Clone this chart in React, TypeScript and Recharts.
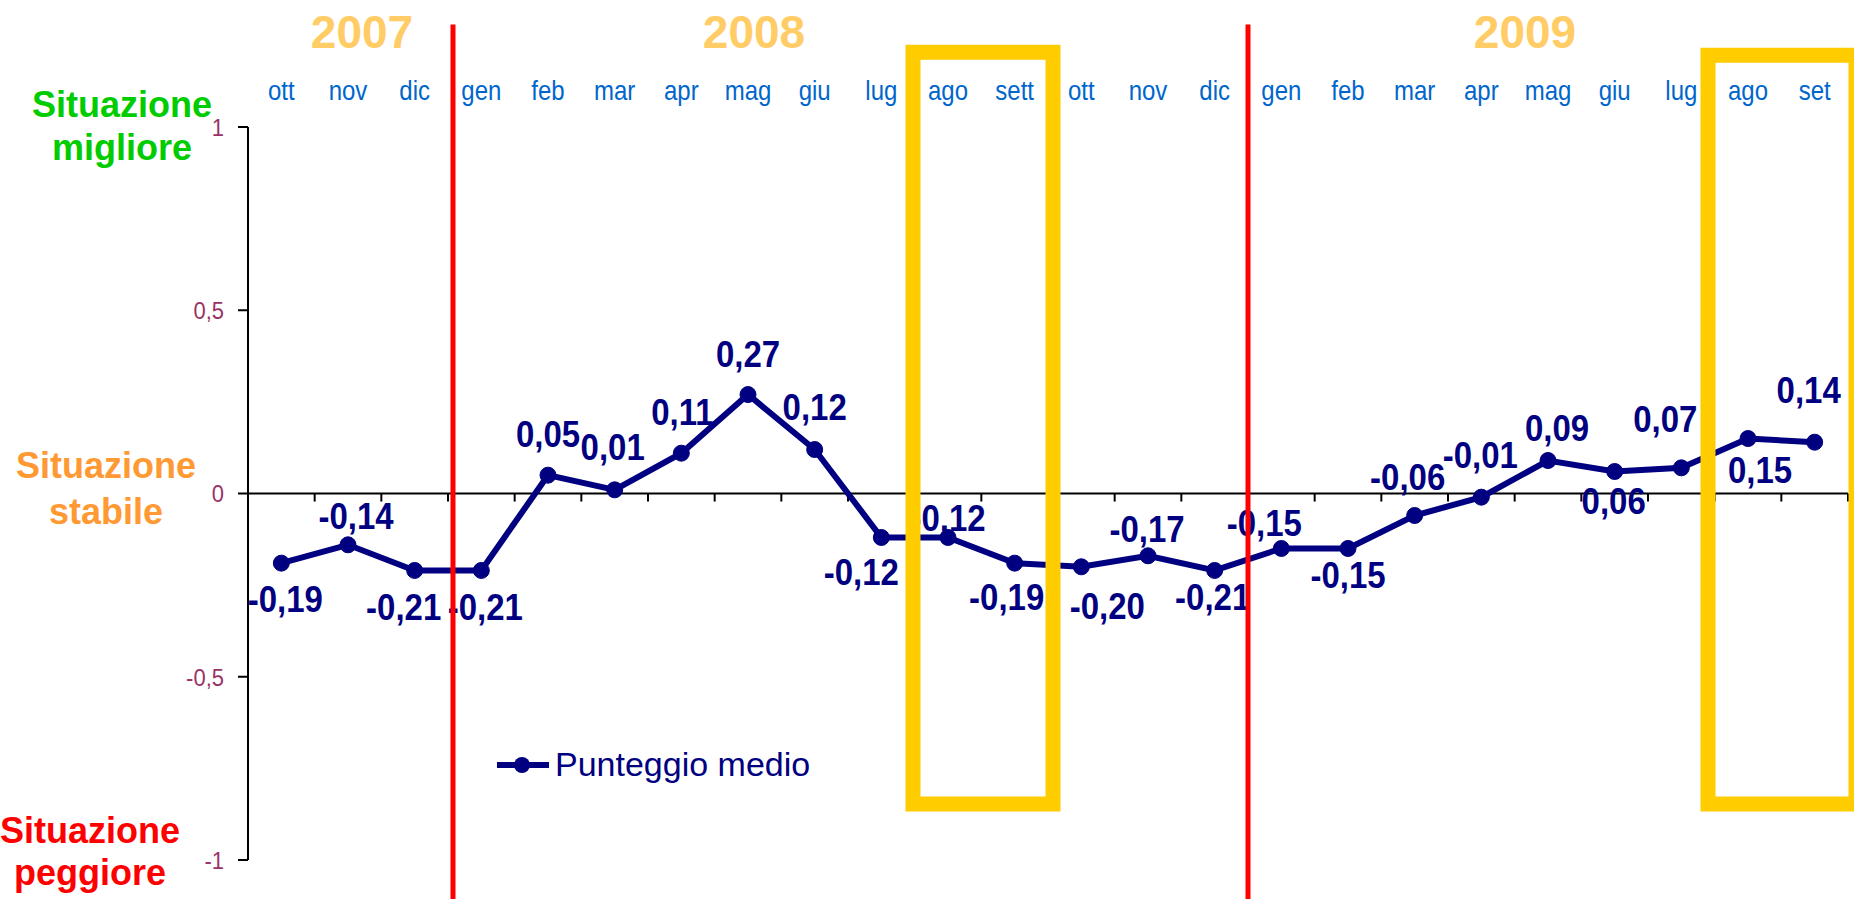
import React from 'react'
import { LineChart, Line, XAxis, YAxis, ReferenceLine, ReferenceArea, LabelList, Legend } from 'recharts'

// page / plot geometry
const W = 1854
const H = 899
const FONT = '"Liberation Sans", Arial, sans-serif'
const NAVY = '#000080'
const YELLOW = '#FFCC00'
const STRETCH = 1.12 // source text is slightly taller than plain Arial

const months = [
  'ott', 'nov', 'dic',
  'gen', 'feb', 'mar', 'apr', 'mag', 'giu', 'lug', 'ago', 'sett', 'ott', 'nov', 'dic',
  'gen', 'feb', 'mar', 'apr', 'mag', 'giu', 'lug', 'ago', 'set',
]
const scores = [
  -0.19, -0.14, -0.21,
  -0.21, 0.05, 0.01, 0.11, 0.27, 0.12, -0.12, -0.12, -0.19, -0.2, -0.17, -0.21,
  -0.15, -0.15, -0.06, -0.01, 0.09, 0.06, 0.07, 0.15, 0.14,
]
const yTicks = [-1, -0.5, 0, 0.5, 1]
const yearLabels = ['2007', '2008', '2009']
// year changes happen between dic and gen
const yearBreaks = [2.575, 14.5]
// highlighted months (ago–set of each year)
const highlights = [
  { x1: 9.475, x2: 11.575, y1: -0.847, y2: 1.204 },
  { x1: 21.4, x2: 23.62, y1: -0.847, y2: 1.196 },
]

// label placement relative to each point (px) — styling only
const labelOffsets: [number, number][] = [
  [4, 49], [8, -16], [-11, 50], [4, 50], [0, -28], [-2, -30], [1, -28], [0, -28],
  [0, -30], [-20, 48], [0, -6], [-8, 47], [26, 52], [-1, -14], [-2, 40], [-17, -12],
  [0, 40], [-7, -25], [-1, -29], [9, -20], [-1, 42], [-16, -36], [12, 44], [-6, -39],
]

const data = months.map((m, i) => ({ i, m, v: scores[i] }))
const boundaries = months.map((_, i) => i + 0.5)
const fmt = (v: number) => String(v).replace('.', ',')
const fmt2 = (v: number) => v.toFixed(2).replace('.', ',')

const renderLabel = (props: any) => {
  const { index, value } = props
  const x = props.viewBox?.x ?? props.x
  const y = props.viewBox?.y ?? props.y
  const [dx, dy] = labelOffsets[index] || [0, -20]
  return (
    <text key={index} transform={`translate(${x + dx},${y + dy}) scale(1,${STRETCH})`} textAnchor="middle"
      fontFamily={FONT} fontWeight="bold" fontSize={33} fill={NAVY}>
      {fmt2(value)}
    </text>
  )
}

const MonthTick = ({ x, y, payload }: any) => (
  <text transform={`translate(${x},${y}) scale(1,${STRETCH})`} textAnchor="middle" fontFamily={FONT} fontSize={24} fill="#0066CC">
    {months[payload.value]}
  </text>
)

const ValueTick = ({ x, y, payload }: any) => (
  <text transform={`translate(${x},${y}) scale(1,${STRETCH})`} dy="0.36em" textAnchor="end" fontFamily={FONT} fontSize={22} fill="#993366">
    {fmt(payload.value)}
  </text>
)

function LegendContent() {
  return (
    <div style={{ display: 'flex', alignItems: 'center', fontFamily: FONT, fontSize: 34, color: NAVY, whiteSpace: 'nowrap' }}>
      <svg width={52} height={20} style={{ marginRight: 6 }}>
        <line x1={1} y1={10} x2={51} y2={10} stroke={NAVY} strokeWidth={6} strokeLinecap="round" />
        <circle cx={25} cy={10} r={8} fill={NAVY} />
      </svg>
      <span>Punteggio medio</span>
    </div>
  )
}

export default function App() {
  return (
    <div style={{ position: 'fixed', left: 0, top: 0, width: W, height: H, background: '#fff', overflow: 'hidden' }}>
      <LineChart width={W} height={H} data={data} margin={{ top: 87, right: 6, bottom: 39, left: 188 }}>
        <XAxis
          dataKey="i" type="number" orientation="top" domain={[-0.5, 23.5]} ticks={data.map(d => d.i)} interval={0}
          height={40} axisLine={false} tickLine={false} tickSize={0} tickMargin={27} tick={<MonthTick />}
        />
        <YAxis
          type="number" domain={[-1, 1]} ticks={yTicks} width={60} tickSize={10} tickMargin={14}
          axisLine={{ stroke: '#000', strokeWidth: 2 }} tickLine={{ stroke: '#000', strokeWidth: 2 }}
          tick={<ValueTick />}
        />
        <ReferenceLine y={0} stroke="#000" strokeWidth={2} />
        {boundaries.map(b => (
          <ReferenceLine key={b} segment={[{ x: b, y: 0 }, { x: b, y: -0.022 }]} stroke="#000" strokeWidth={2} ifOverflow="visible" />
        ))}
        <Line dataKey="v" stroke={NAVY} strokeWidth={6} isAnimationActive={false}
          dot={{ r: 8, fill: NAVY, stroke: NAVY, strokeWidth: 1 }} activeDot={false}>
          <LabelList dataKey="v" content={renderLabel} />
        </Line>
        {/* red year separators and yellow highlight boxes sit above the series */}
        {yearBreaks.map(x => (
          <ReferenceLine key={'yb' + x} segment={[{ x, y: 1.28 }, { x, y: -1.2 }]} stroke="#FF0000" strokeWidth={5}
            ifOverflow="visible" zIndex={3000} />
        ))}
        {highlights.map((h, k) => (
          <ReferenceArea key={'hl' + k} x1={h.x1} x2={h.x2} y1={h.y1} y2={h.y2} fill="none" fillOpacity={0}
            stroke={YELLOW} strokeWidth={15} ifOverflow="visible" zIndex={3000} />
        ))}
        <Legend layout="horizontal" verticalAlign="middle" align="center" content={LegendContent}
          wrapperStyle={{ left: 497, top: 745, width: 'auto' }} />
      </LineChart>

      {/* side captions and year headers */}
      <svg width={W} height={H} style={{ position: 'absolute', left: 0, top: 0, pointerEvents: 'none' }}>
        <g fontFamily={FONT} fontWeight="bold" textAnchor="middle">
          <text x={362} y={48} fontSize={46} fill="#FFCC66">{yearLabels[0]}</text>
          <text x={754} y={48} fontSize={46} fill="#FFCC66">{yearLabels[1]}</text>
          <text x={1525} y={48} fontSize={46} fill="#FFCC66">{yearLabels[2]}</text>
          <text x={122} y={117} fontSize={36} fill="#00CC00">Situazione</text>
          <text x={122} y={160} fontSize={36} fill="#00CC00">migliore</text>
          <text x={106} y={478} fontSize={36} fill="#FF9933">Situazione</text>
          <text x={106} y={524} fontSize={36} fill="#FF9933">stabile</text>
          <text x={90} y={843} fontSize={36} fill="#FF0000">Situazione</text>
          <text x={90} y={885} fontSize={36} fill="#FF0000">peggiore</text>
        </g>
      </svg>
    </div>
  )
}
